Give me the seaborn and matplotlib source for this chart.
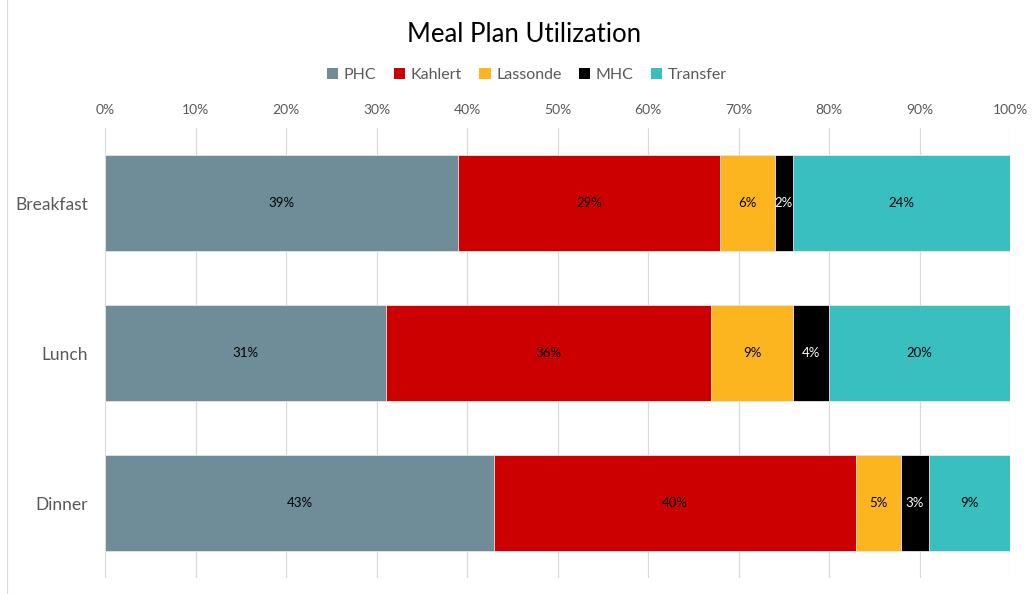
import matplotlib
matplotlib.use("Agg")
import matplotlib.pyplot as plt
import matplotlib.lines as mlines
from matplotlib.patches import Patch
from matplotlib.ticker import PercentFormatter
import numpy as np
import pandas as pd
import seaborn as sns

meals = ["Breakfast", "Lunch", "Dinner"]
halls = ["PHC", "Kahlert", "Lassonde", "MHC", "Transfer"]
phc = [39, 31, 43]
kahlert = [29, 36, 40]
lassonde = [6, 9, 5]
mhc = [2, 4, 3]
transfer = [24, 20, 9]
xticks = [0, 10, 20, 30, 40, 50, 60, 70, 80, 90, 100]

colors = {"PHC": "#6F8D98", "Kahlert": "#CC0000", "Lassonde": "#FDB51F",
          "MHC": "#000000", "Transfer": "#3ABFC1"}
label_colors = {"PHC": "black", "Kahlert": "black", "Lassonde": "black",
                "MHC": "white", "Transfer": "black"}

shares = pd.DataFrame({"PHC": phc, "Kahlert": kahlert, "Lassonde": lassonde,
                       "MHC": mhc, "Transfer": transfer}, index=meals)
cumulative = shares.cumsum(axis=1)

sns.set_theme(style="white")
plt.rcParams["font.family"] = ["Lato", "DejaVu Sans"]

fig = plt.figure(figsize=(10.32, 5.94), dpi=100)
ax = fig.add_axes([105 / 1032, 1 - 578 / 594, 905 / 1032, 450 / 594])

# stacked bars: draw running totals from the widest down
for hall in reversed(halls):
    df = pd.DataFrame({"meal": meals, "value": cumulative[hall].values})
    sns.barplot(data=df, x="value", y="meal", orient="h", color=colors[hall],
                width=0.64, saturation=1, edgecolor="#E8E8E8", linewidth=0.6,
                ax=ax, zorder=2)

for i, meal in enumerate(meals):
    for hall in halls:
        v = shares.loc[meal, hall]
        center = cumulative.loc[meal, hall] - v / 2
        ax.text(center, i, f"{v}%", ha="center", va="center", fontsize=9.5,
                color=label_colors[hall], zorder=3)

ax.set_xlim(0, 100)
ax.set_ylim(2.5, -0.5)
ax.set_xticks(xticks)
ax.xaxis.set_major_formatter(PercentFormatter(decimals=0))
ax.xaxis.tick_top()
ax.tick_params(axis="x", length=0, pad=9, labelsize=10, labelcolor="#595959")
ax.tick_params(axis="y", length=0, pad=12, labelsize=12.5, labelcolor="#595959")
ax.set_xlabel("")
ax.set_ylabel("")
ax.grid(axis="x", color="#D9D9D9", linewidth=0.9, zorder=0)
ax.set_axisbelow(True)
for s in ax.spines.values():
    s.set_visible(False)

fig.text(524 / 1032, 1 - 34 / 594, "Meal Plan Utilization", ha="center",
         va="center", fontsize=18.5, color="black")

handles = [Patch(facecolor=colors[h], edgecolor="none", label=h) for h in halls]
fig.legend(handles=handles, loc="center", bbox_to_anchor=(527 / 1032, 1 - 75 / 594),
           ncol=5, frameon=False, fontsize=11.5, handlelength=0.7, handleheight=0.7,
           handletextpad=0.35, columnspacing=1.1, labelcolor="#595959")

fig.add_artist(mlines.Line2D([7 / 1032, 7 / 1032], [0, 1], color="#D9D9D9",
                             linewidth=0.9, transform=fig.transFigure))

fig.savefig("out.png", dpi=100, facecolor="white")
